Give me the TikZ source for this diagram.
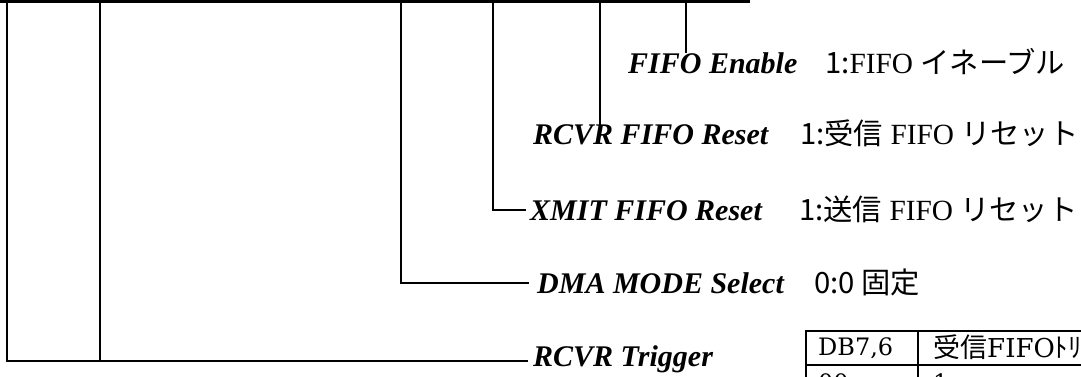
\documentclass[tikz,border=0pt]{standalone}
\usepackage{fontspec}
\setmainfont{Liberation Serif}
\newfontfamily\jp{Noto Sans CJK JP}
\newfontfamily\tabserif{DejaVu Serif}
\begin{document}
\begin{tikzpicture}[x=1pt,y=-1pt,
  wire/.style={line width=1.6pt, line cap=rect},
  topwire/.style={line width=3pt},
  lbl/.style={font=\fontsize{30}{30}\selectfont\bfseries\itshape, inner sep=0pt, anchor=base west},
  jtxt/.style={font=\fontsize{29.3}{29.3}\selectfont, inner sep=0pt, anchor=base west},
  celltxt/.style={font=\tabserif\fontsize{24}{24}\selectfont, inner sep=0pt, anchor=base west},
  grid/.style={line width=1.5pt}]
\useasboundingbox (0,0) rectangle (1081,376);
\clip (0,0) rectangle (1081,376);

% top bus line
\coordinate (topL) at (0,1);
\coordinate (topR) at (750,1);
\draw[topwire] (topL) -- (topR);

% bit taps
\coordinate (t1) at (7,0);
\coordinate (t2) at (100,0);
\coordinate (t3) at (401,0);
\coordinate (t4) at (493,0);
\coordinate (t5) at (600,0);
\coordinate (t6) at (686,0);

% labels
\node[lbl] (fe) at (628,73) {FIFO Enable};
\node[jtxt] (fej) at (825,73) {{\jp 1:}FIFO {\jp イネーブル}};
\node[lbl] (rf) at (533,144) {RCVR FIFO Reset};
\node[jtxt] (rfj) at (800,144) {{\jp 1:受信} FIFO {\jp リセット}};
\node[lbl] (xm) at (530,220) {XMIT FIFO Reset};
\node[jtxt] (xmj) at (799,220) {{\jp 1:送信} FIFO {\jp リセット}};
\node[lbl] (dm) at (537,293) {DMA MODE Select};
\node[jtxt] (dmj) at (814,293) {{\jp 0:0 固定}};
\node[lbl] (rt) at (533,366) {RCVR Trigger};
\coordinate (rtin) at ([xshift=-6pt,yshift=5pt]rt.base west);

% connectors
\draw[wire] (t6) -- (t6 |- fe.north);
\draw[wire] (t5) -- (t5 |- rf.north);
\draw[wire] (t4) |- ([xshift=-5pt]xm.west);
\draw[wire] (t3) |- ([xshift=-9pt]dm.west);
\draw[wire] (t1) |- (rtin);
\draw[wire] (t2) -- (t2 |- rtin);

% table (partly outside the picture)
\coordinate (tbA) at (806,331);
\coordinate (tbB) at (1120,420);
\coordinate (tbC) at (918,331);
\coordinate (tbR) at (806,365);
\draw[grid] (tbA) rectangle (tbB);
\draw[grid] (tbC) -- (tbC |- tbB);
\draw[grid] (tbR) -- (tbR -| tbB);
\node[celltxt] (c11) at (818,355) {DB7,6};
\node[celltxt] (c12) at (933,357) {{\jp\fontsize{27}{27}\selectfont 受信}{\fontsize{26}{26}\selectfont FIFO}{\jp\fontsize{27}{27}\selectfont ﾄﾘ}};
\node[celltxt] (c21) at (818,391) {00};
\node[celltxt] (c22) at (933,391) {1};
\end{tikzpicture}
\end{document}
